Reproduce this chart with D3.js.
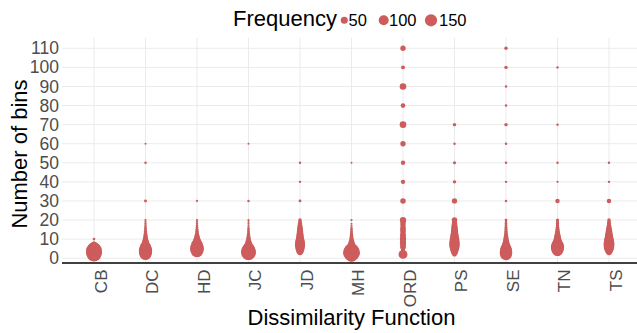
<html>
<head>
<meta charset="UTF-8" />
<script src="https://d3js.org/d3.v7.min.js"></script>
<style>
  body { margin: 0; background: #fff; }
  text { font-family: "Liberation Sans", Arial, sans-serif; }
</style>
</head>
<body>
<div id="chart"></div>
<script>
// categories on the x axis
var categories = ["CB", "DC", "HD", "JC", "JD", "MH", "ORD", "PS", "SE", "TN", "TS"]
var yTicks = [0, 10, 20, 30, 40, 50, 60, 70, 80, 90, 100, 110]
var legendValues = [50, 100, 150]

// [number of bins, frequency] for each dissimilarity function
var CB = [[2,210],[3,260],[4,250],[5,170],[6,90],[7,36],[8,10],[10,7]]
var DC = [[2,130],[3,175],[4,180],[5,150],[6,110],[7,75],[8,52],[9,38],[10,28],[11,22],[12,17],[13,14],[14,11],[15,9],[16,8],[17,6],[18,6],[19,5],[20,5],[30,9],[50,6],[60,4]]
var HD = [[3,90],[4,170],[5,195],[6,170],[7,130],[8,90],[9,60],[10,42],[11,30],[12,22],[13,16],[14,13],[15,10],[16,8],[17,7],[18,6],[19,5],[20,5],[30,5]]
var JC = [[2,130],[3,225],[4,200],[5,140],[6,90],[7,60],[8,42],[9,30],[10,22],[11,16],[12,13],[13,10],[14,8],[15,7],[16,6],[17,5],[18,5],[19,4],[20,5],[30,6],[60,4]]
var JD = [[3,30],[4,60],[5,80],[6,95],[7,105],[8,100],[9,85],[10,70],[11,55],[12,50],[13,45],[14,40],[15,35],[16,30],[17,25],[18,20],[19,15],[20,12],[30,8],[40,6],[50,6]]
var MH = [[1,120],[2,200],[3,290],[4,200],[5,120],[6,80],[7,55],[8,38],[9,28],[10,20],[11,15],[12,12],[13,10],[14,8],[15,7],[16,6],[17,5],[18,4],[20,5],[50,4]]
var ORD = [[2,80],[3,25],[4,15],[5,20],[6,35],[7,30],[8,40],[9,30],[10,40],[11,30],[12,35],[13,25],[14,30],[15,30],[16,30],[17,25],[18,30],[19,25],[20,40],[30,30],[40,20],[50,20],[60,29],[70,44],[80,22],[90,44],[100,16],[110,29]]
var PS = [[2,20],[3,40],[4,60],[5,80],[6,100],[7,110],[8,110],[9,100],[10,90],[11,75],[12,65],[13,55],[14,50],[15,45],[16,40],[17,35],[18,30],[19,25],[20,30],[30,28],[40,12],[50,10],[60,6],[70,12]]
var SE = [[2,140],[3,160],[4,150],[5,120],[6,85],[7,60],[8,45],[9,35],[10,28],[11,22],[12,18],[13,15],[14,12],[15,10],[16,10],[17,8],[18,8],[19,6],[20,8],[30,6],[40,6],[50,6],[60,6],[70,12],[80,6],[90,6],[100,12],[110,12]]
var TN = [[3,50],[4,120],[5,170],[6,180],[7,140],[8,100],[9,75],[10,55],[11,45],[12,35],[13,28],[14,22],[15,18],[16,15],[17,12],[18,12],[19,10],[20,10],[30,20],[40,5],[50,6],[70,6],[100,6]]
var TS = [[3,30],[4,60],[5,90],[6,110],[7,120],[8,115],[9,100],[10,85],[11,70],[12,60],[13,50],[14,42],[15,35],[16,28],[17,22],[18,18],[19,15],[20,12],[30,20],[40,6],[50,6]]

var series = [CB, DC, HD, JC, JD, MH, ORD, PS, SE, TN, TS]

var points = []
series.forEach(function(s, i) {
  s.forEach(function(p) {
    points.push({cat: categories[i], bins: p[0], freq: p[1]})
  })
})

var width = 637
var height = 333
var panel = {left: 62, right: 637, top: 38, bottom: 263}
var dotColor = "#cd5c5c"

var svg = d3.select("#chart")
  .append("svg")
  .attr("width", width)
  .attr("height", height)

var x = d3.scalePoint()
  .domain(categories)
  .range([94, 609])

var y = d3.scaleLinear()
  .domain([0, 110])
  .range([258.2, 48.3])

var size = d3.scaleSqrt()
  .domain([0, 150])
  .range([0, 6.1])

// grid
svg.append("g")
  .selectAll("line")
  .data(yTicks)
  .join("line")
  .attr("x1", panel.left)
  .attr("x2", panel.right)
  .attr("y1", function(d) { return y(d) })
  .attr("y2", function(d) { return y(d) })
  .attr("stroke", "#ebebeb")
  .attr("stroke-width", 1)

svg.append("g")
  .selectAll("line")
  .data(categories)
  .join("line")
  .attr("x1", function(d) { return x(d) })
  .attr("x2", function(d) { return x(d) })
  .attr("y1", panel.top)
  .attr("y2", panel.bottom)
  .attr("stroke", "#ebebeb")
  .attr("stroke-width", 1)

// points
svg.append("g")
  .selectAll("circle")
  .data(points)
  .join("circle")
  .attr("cx", function(d) { return x(d.cat) })
  .attr("cy", function(d) { return y(d.bins) })
  .attr("r", function(d) { return size(d.freq) })
  .attr("fill", dotColor)

// y axis
var yAxis = svg.append("g")
  .attr("transform", "translate(" + panel.left + ",0)")
  .call(d3.axisLeft(y).tickValues(yTicks).tickSize(0).tickPadding(3))
yAxis.select(".domain").remove()
yAxis.selectAll("text")
  .style("font-size", "17.5px")
  .attr("fill", "#4d4d4d")

// x axis
var xAxis = svg.append("g")
  .attr("transform", "translate(0," + panel.bottom + ")")
  .call(d3.axisBottom(x).tickSize(0))
xAxis.select(".domain").remove()
xAxis.selectAll("text")
  .attr("transform", "rotate(-90)")
  .attr("text-anchor", "end")
  .attr("x", -6.5)
  .attr("y", 12)
  .attr("dy", null)
  .style("font-size", "17px")
  .attr("fill", "#4d4d4d")

svg.append("line")
  .attr("x1", panel.left)
  .attr("x2", panel.right)
  .attr("y1", panel.bottom)
  .attr("y2", panel.bottom)
  .attr("stroke", "#000")
  .attr("stroke-width", 1.6)

// axis titles
svg.append("text")
  .attr("x", 351.5)
  .attr("y", 325)
  .attr("text-anchor", "middle")
  .style("font-size", "22px")
  .text("Dissimilarity Function")

svg.append("text")
  .attr("transform", "translate(27,154) rotate(-90)")
  .attr("text-anchor", "middle")
  .style("font-size", "22px")
  .text("Number of bins")

// legend
svg.append("text")
  .attr("x", 233)
  .attr("y", 26)
  .style("font-size", "22px")
  .text("Frequency")

var keyX = [344.3, 383.7, 431]
var labelX = [348.5, 389, 439]

var legend = svg.append("g")
legend.selectAll("circle")
  .data(legendValues)
  .join("circle")
  .attr("cx", function(d, i) { return keyX[i] })
  .attr("cy", 20.3)
  .attr("r", function(d) { return size(d) })
  .attr("fill", dotColor)

legend.selectAll("text")
  .data(legendValues)
  .join("text")
  .attr("x", function(d, i) { return labelX[i] })
  .attr("y", 26)
  .style("font-size", "16.5px")
  .text(function(d) { return d })
</script>
</body>
</html>
